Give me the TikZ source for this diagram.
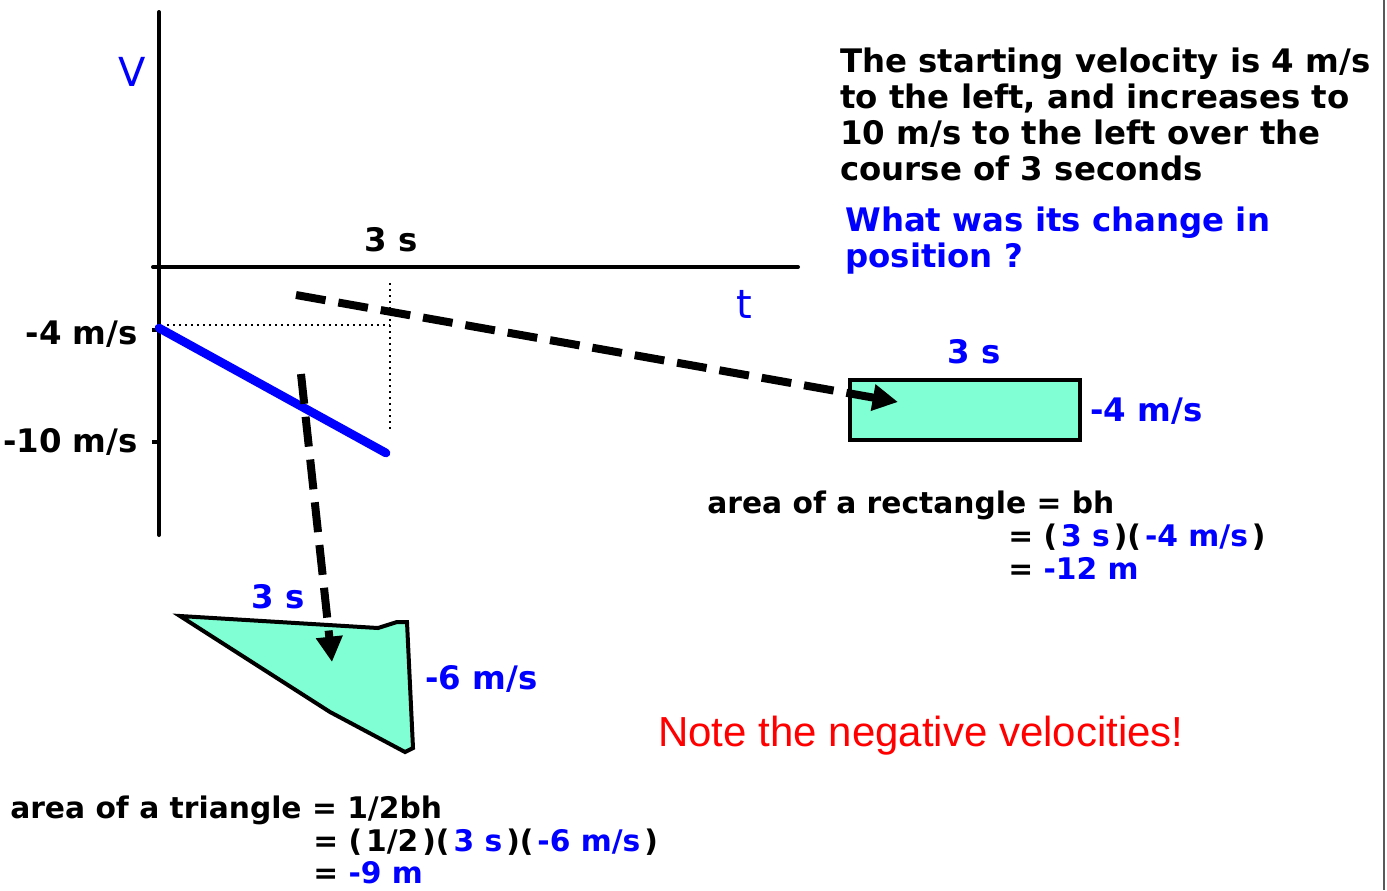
\documentclass[tikz,border=0pt]{standalone}
\usepackage{fontspec}
\setmainfont{DejaVu Sans}
\newfontfamily\arialf{Liberation Sans}
\usetikzlibrary{arrows.meta}
\definecolor{vblue}{RGB}{0,0,255}
\definecolor{vred}{RGB}{255,0,0}
\definecolor{aqua}{RGB}{128,255,212}
\newcommand\pin{\kern3pt}
\begin{document}
\begin{tikzpicture}[x=0.75pt,y=-0.75pt,
  lbl/.style={font=\bfseries\fontsize{24.3}{27}\selectfont, inner sep=0},
  frm/.style={font=\bfseries\fontsize{22.3}{25}\selectfont, inner sep=0},
  reg/.style={font=\fontsize{30}{32}\selectfont, inner sep=0, text=vblue},
  axisline/.style={line width=3pt, line cap=round},
  dotline/.style={line width=1.5pt, dash pattern=on 1.5pt off 3pt},
  dasharrow/.style={line width=6pt, dash pattern=on 22.5pt off 9.75pt, -{Triangle[length=19pt,width=19pt]}},
  areashape/.style={draw=black, line width=3pt, fill=aqua, line join=miter}]
\useasboundingbox (0,0) rectangle (1387,890);
% right edge line
\draw[line width=1.5pt, draw=black!65] (1384,0) -- (1384,890);

% axes
\coordinate (vtop) at (159,12);
\coordinate (vbot) at (159,535);
\coordinate (hleft) at (153,267);
\coordinate (hright) at (798,267);
\draw[axisline] (vtop) -- (vbot);
\draw[axisline] (hleft) -- (hright);
\coordinate (t4) at (152,330);
\coordinate (t4e) at (159,330);
\coordinate (t10) at (152,442);
\coordinate (t10e) at (159,442);
\draw[line width=3pt] (t4) -- (t4e);
\draw[line width=3pt] (t10) -- (t10e);

\node[reg, anchor=base west] (vlab) at (118,86) {V};
\node[reg, anchor=base west] (tlab) at (736,318) {t};
\node[lbl, anchor=base] (s3) at (391,251) {3 s};
\node[lbl, anchor=base east] (m4) at (138,344) {-4 m/s};
\node[lbl, anchor=base east] (m10) at (138,452) {-10 m/s};

% dotted guides
\coordinate (d1) at (167,325);
\coordinate (d2) at (390,325);
\coordinate (d3) at (390,283);
\coordinate (d4) at (390,433);
\draw[dotline] (d1) -- (d2);
\draw[dotline] (d3) -- (d4);

% velocity line
\coordinate (vs) at (159,328);
\coordinate (ve) at (386,453);
\draw[line width=6.5pt, vblue, line cap=round] (vs) -- (ve);

% rectangle
\coordinate (r1) at (850,380);
\coordinate (r2) at (1080,440);
\draw[areashape] (r1) rectangle (r2);
\node[lbl, text=vblue, anchor=base] (r3s) at (974,363) {3 s};
\node[lbl, text=vblue, anchor=base west] (r4) at (1090,421) {-4 m/s};

% triangle
\draw[areashape] (180,616) -- (378,628) -- (397,622) -- (407,622) -- (413,748) -- (405,752) -- (330,712) -- cycle;
\node[lbl, text=vblue, anchor=base] (tr3s) at (278,608) {3 s};
\node[lbl, text=vblue, anchor=base west] (tr6) at (425,689) {-6 m/s};

% dashed arrows
\coordinate (a1s) at (296,295);
\coordinate (a1e) at (898,402);
\coordinate (a2s) at (301,374);
\coordinate (a2e) at (332,662);
\draw[dasharrow] (a1s) -- (a1e);
\draw[dasharrow] (a2s) -- (a2e);

% problem text
\node[lbl, anchor=base west] (p1) at (840,72) {The starting velocity is 4 m/s};
\node[lbl, anchor=base west] (p2) at (840,108) {to the left, and increases to};
\node[lbl, anchor=base west] (p3) at (840,144) {10 m/s to the left over the};
\node[lbl, anchor=base west] (p4) at (840,180) {course of 3 seconds};
\node[lbl, text=vblue, anchor=base west] (q1) at (845,231) {What was its change in};
\node[lbl, text=vblue, anchor=base west] (q2) at (845,267) {position ?};

% rectangle formula
\node[frm, anchor=base west] (f1) at (707,513) {area of a rectangle = bh};
\node[frm, anchor=base west] (f2) at (1008,546) {= (\pin\textcolor{vblue}{3 s}\pin)(\pin\textcolor{vblue}{-4 m/s}\pin)};
\node[frm, anchor=base west] (f3) at (1008,579) {= \textcolor{vblue}{-12 m}};

% triangle formula
\node[frm, anchor=base west] (g1) at (10,818) {area of a triangle = 1/2bh};
\node[frm, anchor=base west] (g2) at (313,851) {= (\pin 1/2\pin)(\pin\textcolor{vblue}{3 s}\pin)(\pin\textcolor{vblue}{-6 m/s}\pin)};
\node[frm, anchor=base west] (g3) at (313,883) {= \textcolor{vblue}{-9 m}};

% note
\node[font=\arialf\fontsize{31.5}{33}\selectfont, text=vred, inner sep=0, anchor=base west] (note) at (658,746) {Note the negative velocities!};
\end{tikzpicture}
\end{document}
